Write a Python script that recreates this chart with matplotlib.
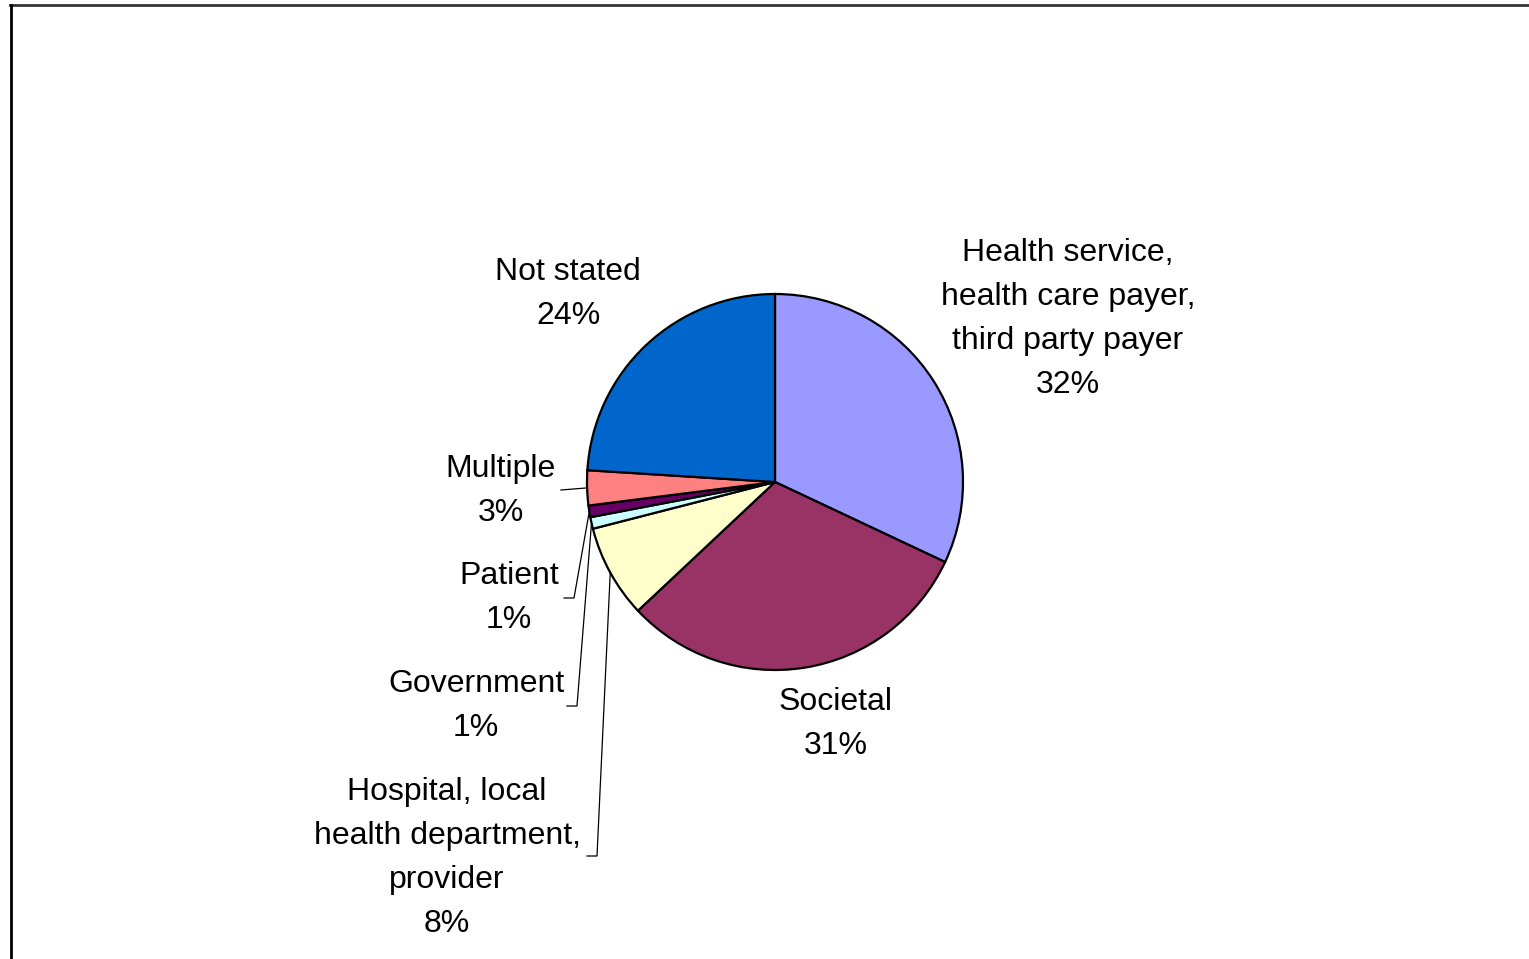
import numpy as np
import matplotlib
matplotlib.use("Agg")
import matplotlib.pyplot as plt

# Perspective adopted in the studies (share of studies, %)
categories = [
    "Health service,\nhealth care payer,\nthird party payer",
    "Societal",
    "Hospital, local\nhealth department,\nprovider",
    "Government",
    "Patient",
    "Multiple",
    "Not stated",
]
shares = [32, 31, 8, 1, 1, 3, 24]
colors = ["#9999FF", "#993366", "#FFFFCC", "#CCFFFF", "#660066", "#FF8080", "#0066CC"]

W, H = 1529, 959
plt.rcParams["font.family"] = ["Liberation Sans", "DejaVu Sans"]

fig = plt.figure(figsize=(W / 100, H / 100), dpi=100)
ax = fig.add_axes([0, 0, 1, 1])


def py(y):
    """Convert a top-down pixel row into the axes' bottom-up coordinate."""
    return H - y


cx, cy, r = 775, py(482), 188
wedges, _ = ax.pie(
    shares,
    colors=colors,
    startangle=90,
    counterclock=False,
    center=(cx, cy),
    radius=r,
    wedgeprops=dict(edgecolor="black", linewidth=1.6),
)
ax.set_xlim(0, W)
ax.set_ylim(0, H)
ax.set_aspect("equal")
ax.axis("off")

# label block centres (x, y) and optional elbow for the leader line
label_pos = [
    (1068, 319, None),
    (836, 724, None),
    (447, 858, (587, 597, 856)),
    (476, 706, (567, 577, 706)),
    (509, 598, (564, 574, 598)),
    (501, 491, (561, 561, 490)),
    (568, 294, None),
]

for wedge, name, share, (lx, ly, elbow) in zip(wedges, categories, shares, label_pos):
    ax.text(lx, py(ly), f"{name}\n{share}%", ha="center", va="center",
            fontsize=23, linespacing=1.6, color="black")
    if elbow is not None:
        mid = np.deg2rad((wedge.theta1 + wedge.theta2) / 2)
        ex, ey = cx + r * np.cos(mid), cy + r * np.sin(mid)
        x0, x1, yy = elbow
        ax.plot([x0, x1, ex], [py(yy), py(yy), ey], color="black", lw=0.9,
                solid_joinstyle="miter")

# chart-area frame (top and left edges)
ax.plot([10, W + 5], [py(5), py(5)], color="#333333", lw=2, clip_on=False)
ax.plot([10.5, 10.5], [py(5), -5], color="black", lw=2, clip_on=False)

fig.savefig("out.png", dpi=100, facecolor="white")
